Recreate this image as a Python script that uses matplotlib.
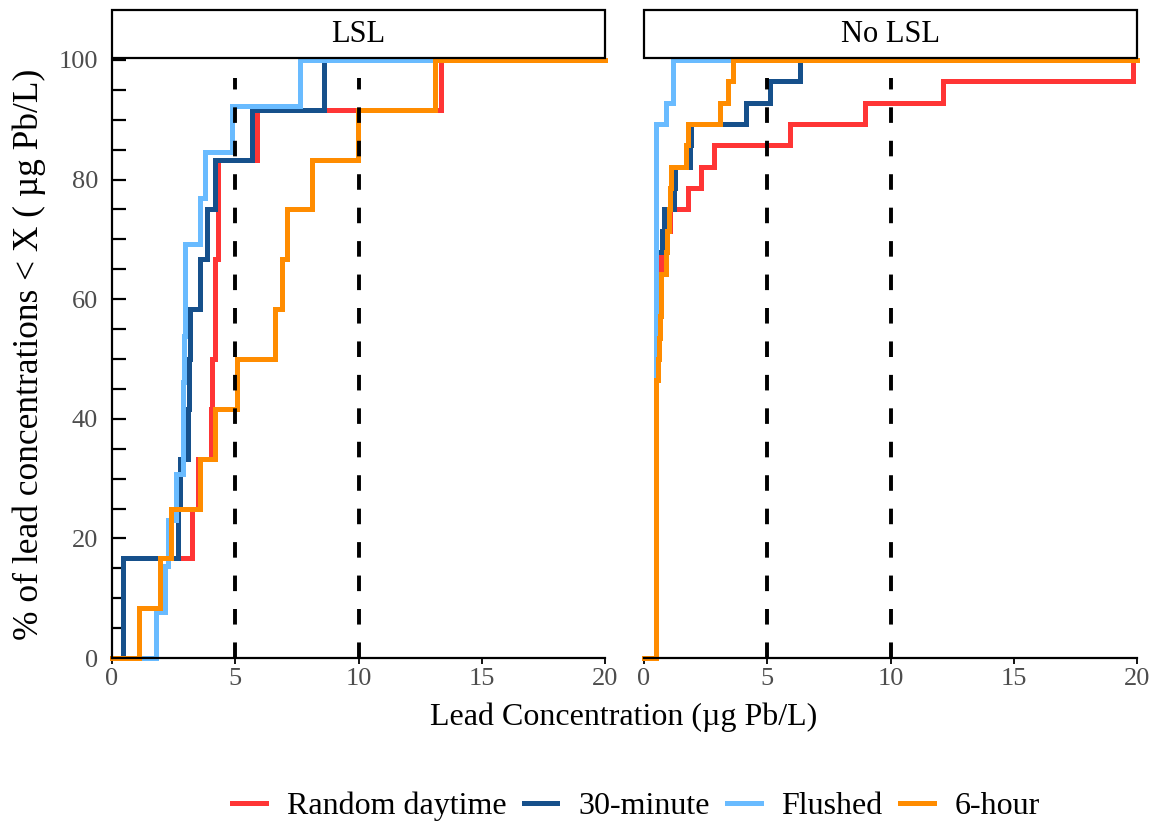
import numpy as np
import matplotlib
matplotlib.use("Agg")
import matplotlib.pyplot as plt
from matplotlib.patches import Rectangle

plt.rcParams['font.family'] = ['Liberation Serif', 'DejaVu Serif']

# ---- data (lead concentrations, ug Pb/L) ----
panels = ["LSL", "No LSL"]
series = ["Random daytime", "30-minute", "Flushed", "6-hour"]
colors = ["#FF3535", "#16508B", "#69BBFF", "#FF8C00"]

lsl_random = [1.11, 1.93, 3.26, 3.50, 4.00, 4.04, 4.18, 4.18, 4.31, 4.31, 5.88, 13.36]
lsl_30min = [0.43, 0.43, 2.68, 2.75, 3.09, 3.12, 3.16, 3.56, 3.84, 4.18, 5.67, 8.62]
lsl_flushed = [1.80, 2.13, 2.28, 2.61, 2.88, 2.90, 2.92, 2.95, 2.95, 3.56, 3.77, 4.85, 7.64]
lsl_6hour = [1.11, 1.93, 2.41, 3.56, 4.18, 5.06, 6.62, 6.90, 7.10, 8.12, 9.96, 13.09]

nolsl_random = [0.5] * 17 + [0.65, 0.70, 0.72, 1.05, 1.78, 2.32, 2.86, 5.91, 8.95, 12.13, 19.85]
nolsl_30min = [0.5] * 19 + [0.75, 0.80, 1.20, 1.25, 1.85, 1.90, 4.15, 5.10, 6.31]
nolsl_flushed = [0.47] * 25 + [0.88, 1.17, 1.17]
nolsl_6hour = [0.49] * 13 + [0.55, 0.62, 0.66, 0.70, 0.70, 0.90, 0.95, 1.00, 1.05, 1.10,
                             1.71, 1.80, 3.07, 3.40, 3.60]

data = {
    "LSL": [lsl_random, lsl_30min, lsl_flushed, lsl_6hour],
    "No LSL": [nolsl_random, nolsl_30min, nolsl_flushed, nolsl_6hour],
}

x_ticks = [0, 5, 10, 15, 20]
y_ticks = [0, 20, 40, 60, 80, 100]
ref_lines = [5, 10]

W, H = 1155, 822
fig = plt.figure(figsize=(W / 100, H / 100), dpi=100)

panel_px = [(112, 605), (644, 1137)]
top_px, bot_px = 60, 658
grey = "#4D4D4D"

axes = []
for i, (pname, (l, r)) in enumerate(zip(panels, panel_px)):
    ax = fig.add_axes([l / W, 1 - bot_px / H, (r - l) / W, (bot_px - top_px) / H])
    axes.append(ax)
    for vals, col, lab in zip(data[pname], colors, series):
        v = np.sort(np.asarray(vals, float))
        n = len(v)
        xs = np.concatenate([[0.0], v, [20.0]])
        ys = np.concatenate([[0.0], np.arange(1, n + 1) / n * 100, [100.0]])
        ax.step(xs, ys, where="post", color=col, lw=3.6, label=lab,
                clip_on=False, solid_joinstyle="miter")
    for xv in ref_lines:
        ax.axvline(xv, ymin=0.0, ymax=0.97, color="black", lw=2.8,
                   linestyle=(0, (4.0, 4.6)), zorder=5)
    ax.set_xlim(0, 20)
    ax.set_ylim(0, 100)
    ax.set_xticks(x_ticks)
    ax.set_xticklabels([str(t) for t in x_ticks], fontsize=19, color=grey)
    ax.tick_params(axis="x", direction="out", length=4, width=1.3, pad=3)
    for s in ["top", "right"]:
        ax.spines[s].set_visible(False)
    ax.spines["bottom"].set_linewidth(1.6)
    if i == 0:
        ax.spines["left"].set_linewidth(1.6)
        ax.set_yticks(np.arange(0, 101, 5))
        ax.set_yticklabels([str(t) if t in y_ticks else "" for t in range(0, 101, 5)],
                           fontsize=19, color=grey)
        ax.tick_params(axis="y", direction="in", length=10, width=1.6, pad=10)
    else:
        ax.spines["left"].set_visible(False)
        ax.set_yticks([])
    # strip
    rect = Rectangle((l / W, 1 - 58 / H), (r - l) / W, 48 / H, transform=fig.transFigure,
                     facecolor="white", edgecolor="black", lw=1.6, zorder=10)
    fig.add_artist(rect)
    fig.text((l + r) / 2 / W, 1 - 34 / H, pname, ha="center", va="center",
             fontsize=22, zorder=11)

fig.text(624 / W, 1 - 717 / H, "Lead Concentration (\u00b5g Pb/L)", ha="center",
         va="center", fontsize=23)
fig.text(29 / W, 1 - 354 / H, "% of lead concentrations < X ( \u00b5g Pb/L)", ha="center",
         va="center", rotation=90, fontsize=25.5)

handles, labels = axes[0].get_legend_handles_labels()
fig.legend(handles, labels, loc="center", bbox_to_anchor=(636 / W, 1 - 806 / H), ncol=4,
           frameon=False, fontsize=23, handlelength=1.05, columnspacing=0.55,
           handletextpad=0.65)

fig.savefig("out.png", dpi=100)
